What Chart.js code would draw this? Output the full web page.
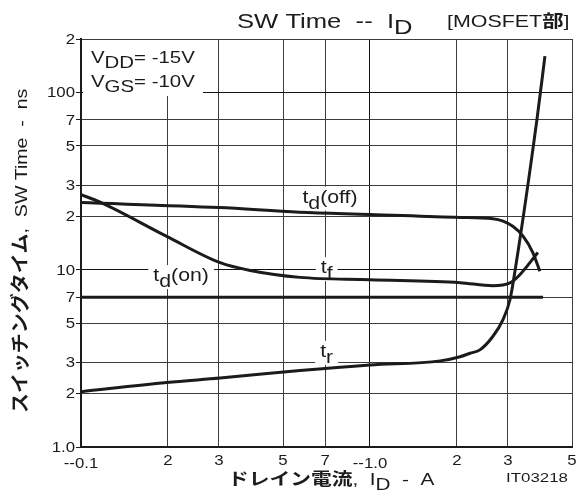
<!DOCTYPE html>
<html>
<head>
<meta charset="utf-8">
<script src="https://cdn.jsdelivr.net/npm/chart.js@4.4.1/dist/chart.umd.min.js"></script>
<style>
  body { margin: 0; background: #fff; }
  canvas { display: block; }
</style>
</head>
<body>
<canvas id="swChart" width="578" height="503"></canvas>
<script>
// axis ticks
const xTicks = [0.1, 0.2, 0.3, 0.5, 0.7, 1, 2, 3, 5];
const xTickLabels = ['--0.1', '2', '3', '5', '7', '--1.0', '2', '3', '5'];
const yTicks = [1, 2, 3, 5, 7, 10, 20, 30, 50, 70, 100, 200];
const yTickLabels = ['1.0', '2', '3', '5', '7', '10', '2', '3', '5', '7', '100', '2'];

// curves
const tdOffX = [0.1, 0.3, 0.57, 1.0, 2.05, 2.66, 3.12, 3.39, 3.66, 3.87];
const tdOffY = [23.9, 22.4, 21.1, 20.5, 19.7, 19.4, 17.6, 15.4, 12.5, 9.8];
const tfX = [0.1, 0.116, 0.198, 0.303, 0.385, 0.572, 1.0, 2.05, 2.66, 3.05, 3.30, 3.81];
const tfY = [26.5, 24.1, 15.4, 10.95, 9.9, 9.05, 8.78, 8.45, 8.12, 8.42, 9.37, 12.5];
const tdOnX = [0.1, 3.97];
const tdOnY = [7, 7];
const trX = [0.1, 0.198, 0.303, 0.572, 1.0, 1.75, 2.05, 2.22, 2.40, 2.66, 2.88, 3.05, 3.18, 3.78, 4.03];
const trY = [2.05, 2.31, 2.45, 2.70, 2.90, 3.06, 3.23, 3.38, 3.53, 4.20, 5.2, 6.77, 10, 70, 160];

// curve labels, anchored at data coords
const curveLabels = [
  { parts: [['t'], ['d', 'sub'], ['(off)']], x: 0.727, y: 25.5 },
  { parts: [['t'], ['f', 'sub']], x: 0.708, y: 10.2 },
  { parts: [['t'], ['d', 'sub'], ['(on)']], x: 0.222, y: 9.2 },
  { parts: [['t'], ['r', 'sub']], x: 0.708, y: 3.44 }
];

const FONT = '"Liberation Sans", Arial, sans-serif';
const JP = '"Noto Sans CJK JP", sans-serif';
const INK = '#1b1b1b';

function toPts(xs, ys) { return xs.map((x, i) => ({ x: x, y: ys[i] })); }

function setFont(ctx, mode, size) {
  ctx.font = mode === 'jp' ? 'bold ' + size + 'px ' + JP : size + 'px ' + FONT;
}

function richWidth(ctx, parts, size, sx) {
  let w = 0;
  parts.forEach(p => { setFont(ctx, p[1], size); w += ctx.measureText(p[0]).width; });
  return w * sx;
}

// draws text pieces (normal / subscript / bold japanese), stretched by sx
function drawRich(ctx, parts, x, y, size, sx) {
  ctx.save();
  ctx.translate(x, y);
  ctx.scale(sx, 1);
  let cx = 0;
  parts.forEach(p => {
    setFont(ctx, p[1], size);
    const dy = p[1] === 'sub' ? size * 0.3 : 0;
    ctx.fillText(p[0], cx, dy);
    cx += ctx.measureText(p[0]).width;
  });
  ctx.restore();
  return x + cx * sx;
}

const textPlugin = {
  id: 'texts',
  beforeDatasetsDraw(chart) {
    const ctx = chart.ctx;
    const xs = chart.scales.x, ys = chart.scales.y;
    ctx.save();
    ctx.textBaseline = 'middle';
    curveLabels.forEach(l => {
      const px = xs.getPixelForValue(l.x), py = ys.getPixelForValue(l.y);
      const w = richWidth(ctx, l.parts, 19, 1.12);
      ctx.fillStyle = '#fff';
      ctx.fillRect(px - w / 2 - 5, py - 11, w + 10, 24);
      ctx.fillStyle = INK;
      drawRich(ctx, l.parts, px - w / 2, py, 19, 1.12);
    });
    const a = chart.chartArea;
    ctx.fillStyle = '#fff';
    ctx.fillRect(a.left + 2, a.top + 1, 120, 56);
    ctx.fillStyle = INK;
    ctx.textBaseline = 'alphabetic';
    drawRich(ctx, [['V'], ['DD', 'sub'], ['= -15V']], a.left + 10, a.top + 24, 17, 1.2);
    drawRich(ctx, [['V'], ['GS', 'sub'], ['= -10V']], a.left + 10, a.top + 48, 17, 1.2);
    ctx.restore();
  },
  afterDraw(chart) {
    const ctx = chart.ctx;
    const xs = chart.scales.x, ys = chart.scales.y;
    ctx.save();
    ctx.fillStyle = INK;

    // tick labels
    ctx.textBaseline = 'alphabetic';
    xTicks.forEach((v, i) => {
      const t = xTickLabels[i];
      const w = richWidth(ctx, [[t]], 14, 1.2);
      const by = t.indexOf('--') === 0 ? 468 : 465;
      drawRich(ctx, [[t]], xs.getPixelForValue(v) - w / 2, by, 14, 1.2);
    });
    ctx.textBaseline = 'middle';
    yTicks.forEach((v, i) => {
      const t = yTickLabels[i];
      const w = richWidth(ctx, [[t]], 14, 1.2);
      drawRich(ctx, [[t]], 75 - w, ys.getPixelForValue(v) + 1, 14, 1.2);
    });

    ctx.textBaseline = 'alphabetic';
    // title
    drawRich(ctx, [['SW Time  --  I'], ['D', 'sub']], 237, 28, 21, 1.22);
    drawRich(ctx, [['[MOSFET'], ['部', 'jp'], [']']], 447, 27, 17, 1.26);

    // x axis title
    drawRich(ctx, [['ドレイン電流', 'jp'], [',  I'], ['D', 'sub'], ['  -  A']], 228, 485, 17, 1.22);
    drawRich(ctx, [['IT03218']], 506, 482, 13, 1.3);

    // y axis title (rotated)
    ctx.translate(27, 413);
    ctx.rotate(-Math.PI / 2);
    let e = drawRich(ctx, [['スイッチングタイム', 'jp']], 0, 0, 19, 1.05);
    drawRich(ctx, [[',  SW Time  -  ns']], e, 0, 17, 1.15);
    ctx.restore();
  }
};

function gridColor(c) {
  const v = c.tick && c.tick.value;
  return (v === 1 || v === 10 || v === 100) ? '#111' : '#3c3c3c';
}

const lineStyle = {
  borderColor: INK,
  borderWidth: 3,
  pointRadius: 0,
  fill: false,
  cubicInterpolationMode: 'monotone'
};

new Chart(document.getElementById('swChart').getContext('2d'), {
  type: 'line',
  data: {
    datasets: [
      Object.assign({ label: 'td(off)', data: toPts(tdOffX, tdOffY) }, lineStyle),
      Object.assign({ label: 'tf', data: toPts(tfX, tfY) }, lineStyle),
      Object.assign({ label: 'td(on)', data: toPts(tdOnX, tdOnY) }, lineStyle),
      Object.assign({ label: 'tr', data: toPts(trX, trY) }, lineStyle)
    ]
  },
  options: {
    responsive: false,
    animation: false,
    devicePixelRatio: 1,
    layout: { padding: { top: 39, right: 6, left: 0, bottom: 0 } },
    plugins: { legend: { display: false }, tooltip: { enabled: false } },
    scales: {
      x: {
        type: 'logarithmic',
        min: 0.1,
        max: 5,
        afterBuildTicks: s => { s.ticks = xTicks.map(v => ({ value: v })); },
        afterFit: s => { s.height = 56; s.paddingLeft = 0; s.paddingRight = 0; },
        ticks: { display: false, autoSkip: false },
        grid: { color: gridColor, lineWidth: 1, drawTicks: false },
        border: { color: INK, width: 2 }
      },
      y: {
        type: 'logarithmic',
        min: 1,
        max: 200,
        afterBuildTicks: s => { s.ticks = yTicks.map(v => ({ value: v })); },
        afterFit: s => { s.width = 81; s.paddingTop = 0; s.paddingBottom = 0; },
        ticks: { display: false, autoSkip: false },
        grid: { color: gridColor, lineWidth: 1, drawTicks: true, tickLength: 5, tickColor: INK },
        border: { color: INK, width: 2 }
      }
    }
  },
  plugins: [textPlugin]
});
</script>
</body>
</html>
